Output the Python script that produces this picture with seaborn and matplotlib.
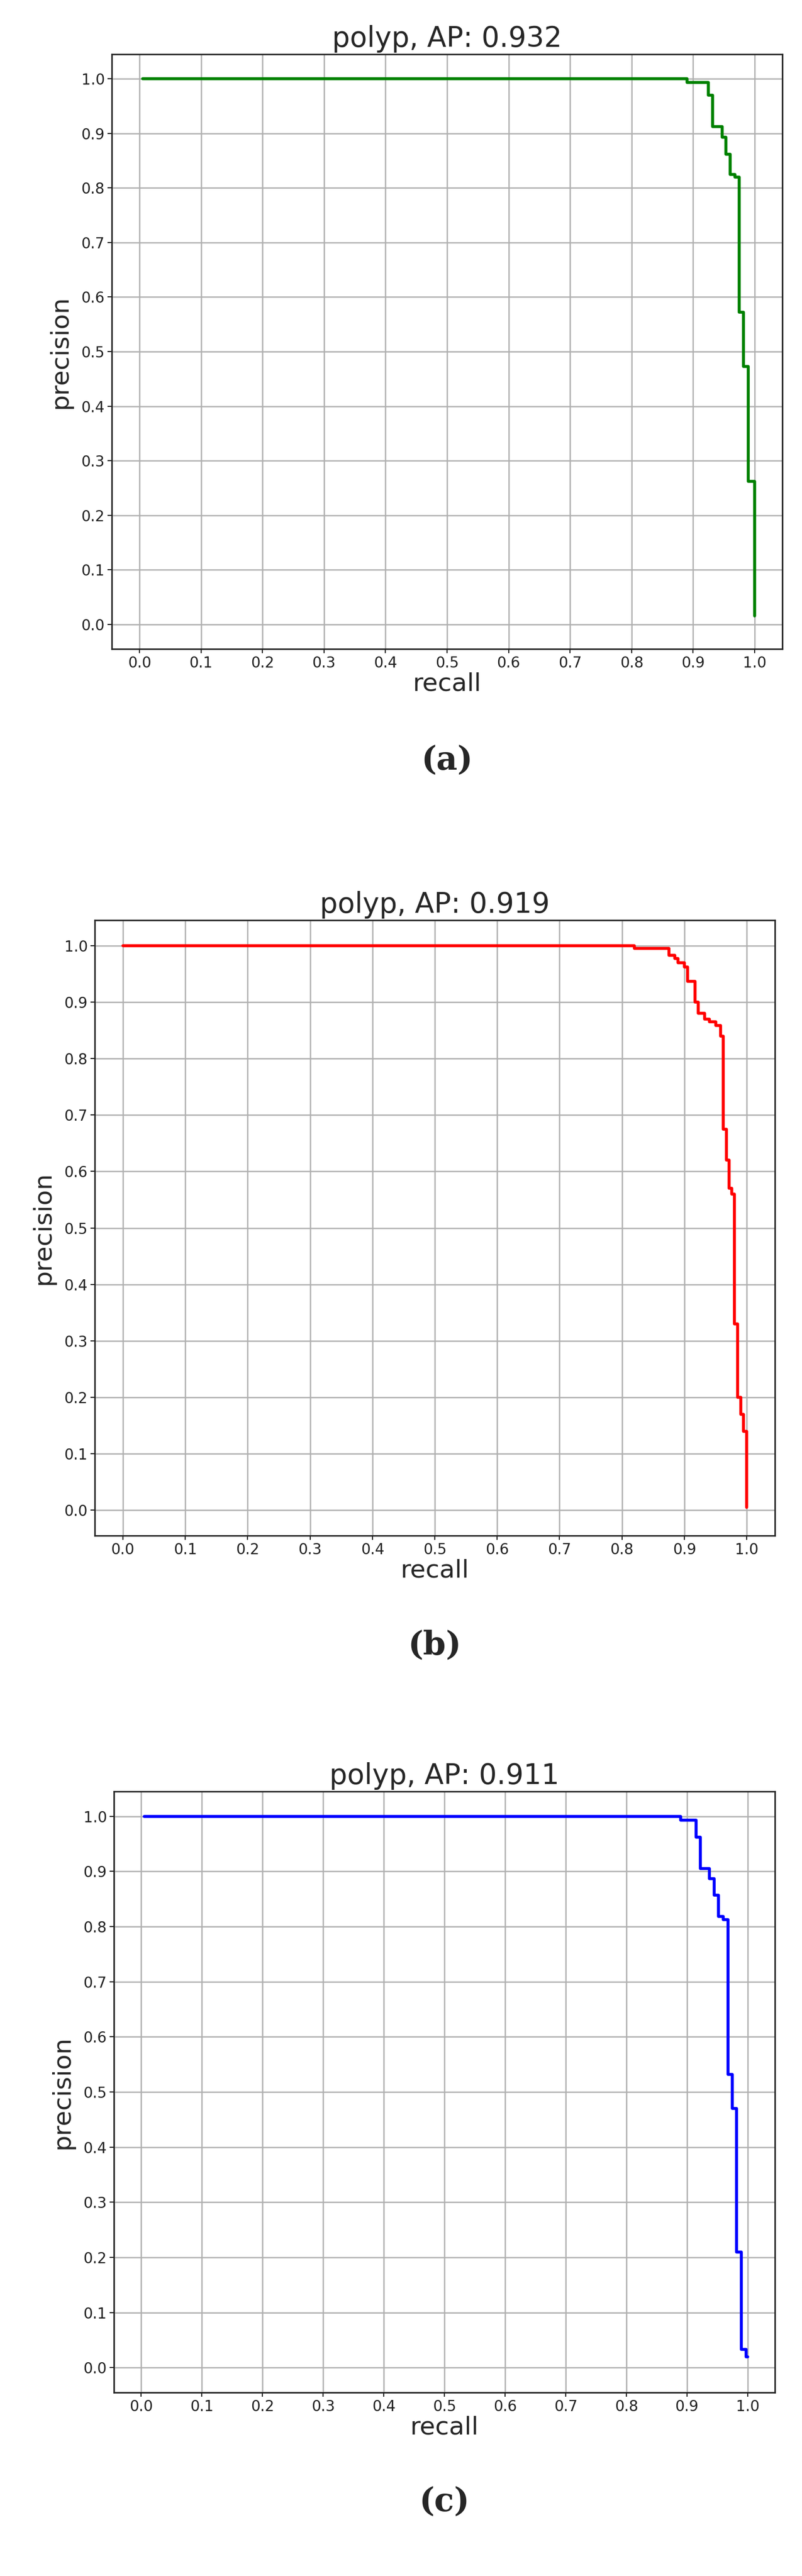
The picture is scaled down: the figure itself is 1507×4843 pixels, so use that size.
import numpy as np
import pandas as pd
import matplotlib
matplotlib.use("Agg")
import matplotlib.pyplot as plt
import seaborn as sns

sns.set_style("ticks")
plt.rcParams['font.family'] = ['DejaVu Sans']

titles = ["polyp, AP: 0.932", "polyp, AP: 0.919", "polyp, AP: 0.911"]
captions = ["(a)", "(b)", "(c)"]
colors = ["green", "red", "blue"]

recall_a = [0.005, 0.89, 0.925, 0.932, 0.947, 0.953, 0.960, 0.968, 0.975, 0.982, 0.990, 1.0, 1.0]
prec_a = [1.0, 0.993, 0.970, 0.912, 0.893, 0.862, 0.825, 0.820, 0.572, 0.473, 0.262, 0.015, 0.015]

recall_b = [0.0, 0.82, 0.875, 0.885, 0.89, 0.90, 0.905, 0.917, 0.922, 0.932, 0.94, 0.95, 0.958,
            0.962, 0.967, 0.972, 0.976, 0.980, 0.985, 0.990, 0.995, 1.0, 1.0]
prec_b = [1.0, 0.995, 0.983, 0.977, 0.970, 0.962, 0.937, 0.900, 0.880, 0.870, 0.865, 0.858, 0.840,
          0.675, 0.620, 0.570, 0.560, 0.330, 0.200, 0.170, 0.140, 0.005, 0.005]

recall_c = [0.005, 0.89, 0.915, 0.922, 0.937, 0.945, 0.952, 0.960, 0.968, 0.975, 0.982, 0.990, 0.998, 1.0]
prec_c = [1.0, 0.993, 0.962, 0.905, 0.887, 0.857, 0.818, 0.813, 0.532, 0.470, 0.210, 0.033, 0.020, 0.020]

series = [(recall_a, prec_a), (recall_b, prec_b), (recall_c, prec_c)]

W, H = 1507, 4843
fig = plt.figure(figsize=(W / 100, H / 100), dpi=100)

boxes = [(210, 102, 1470, 1220), (178, 1730, 1456, 2887), (214, 3368, 1456, 4498)]
caption_y = [1429, 3093, 4703]
ticks = [round(0.1 * i, 1) for i in range(11)]

for i, ((l, t, r, b), (rx, py)) in enumerate(zip(boxes, series)):
    ax = fig.add_axes([l / W, 1 - b / H, (r - l) / W, (b - t) / H])
    df = pd.DataFrame({"recall": rx, "precision": py})
    sns.lineplot(data=df, x="recall", y="precision", ax=ax, color=colors[i],
                 drawstyle="steps-post", estimator=None, sort=False, linewidth=4)
    ax.set_xlim(-0.045, 1.045)
    ax.set_ylim(-0.045, 1.045)
    ax.set_xticks(ticks)
    ax.set_yticks(ticks)
    ax.set_xticklabels([f"{v:.1f}" for v in ticks])
    ax.set_yticklabels([f"{v:.1f}" for v in ticks])
    ax.grid(True, color="#b0b0b0", linewidth=1.8)
    ax.set_axisbelow(True)
    ax.tick_params(labelsize=20, colors="#222222", length=6, width=1.5)
    for s in ax.spines.values():
        s.set_linewidth(2)
        s.set_color("#222222")
    ax.set_title(titles[i], fontsize=38, pad=10)
    ax.set_xlabel("recall", fontsize=34, labelpad=2)
    ax.set_ylabel("precision", fontsize=34, labelpad=12)
    fig.text((l + r) / 2 / W, 1 - caption_y[i] / H, captions[i], ha="center", va="center",
             fontsize=44, fontweight="bold", family="DejaVu Serif")

fig.savefig("out.png", dpi=100, facecolor="white")
